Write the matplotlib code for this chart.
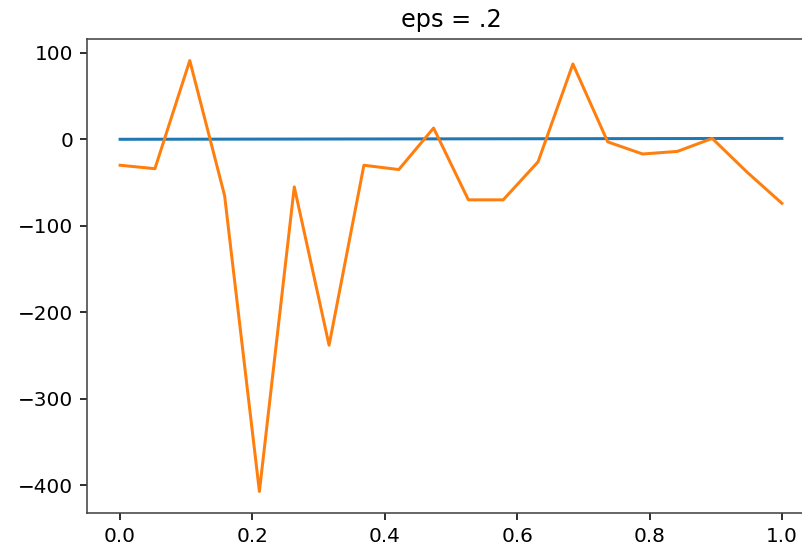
import matplotlib
matplotlib.use('Agg')
import matplotlib.pyplot as plt

# x grid (20 samples on [0, 1])
x = [0.0, 0.0526, 0.1053, 0.1579, 0.2105, 0.2632, 0.3158, 0.3684, 0.4211, 0.4737,
     0.5263, 0.5789, 0.6316, 0.6842, 0.7368, 0.7895, 0.8421, 0.8947, 0.9474, 1.0]

# reference curve (nearly flat, ~0 -> 1)
exact = [0.0, 0.05, 0.11, 0.16, 0.21, 0.26, 0.32, 0.37, 0.42, 0.47,
         0.53, 0.58, 0.63, 0.68, 0.74, 0.79, 0.84, 0.89, 0.95, 1.0]

# noisy estimate
approx = [-30, -34, 91, -65, -407, -55, -238, -30, -35, 13,
          -70, -70, -26, 87, -3, -17, -14, 1, -38, -74]

fig = plt.figure(figsize=(802 / 144, 552 / 144), dpi=144)
# axes run past the right edge, like the cropped original
ax = fig.add_axes([87 / 802, 39 / 552, 728 / 802, 474 / 552])
ax.plot(x, exact)
ax.plot(x, approx)
ax.set_title('eps = .2')
for s in ax.spines.values():
    s.set_color('#444444')

fig.savefig('out.png', dpi=144)
